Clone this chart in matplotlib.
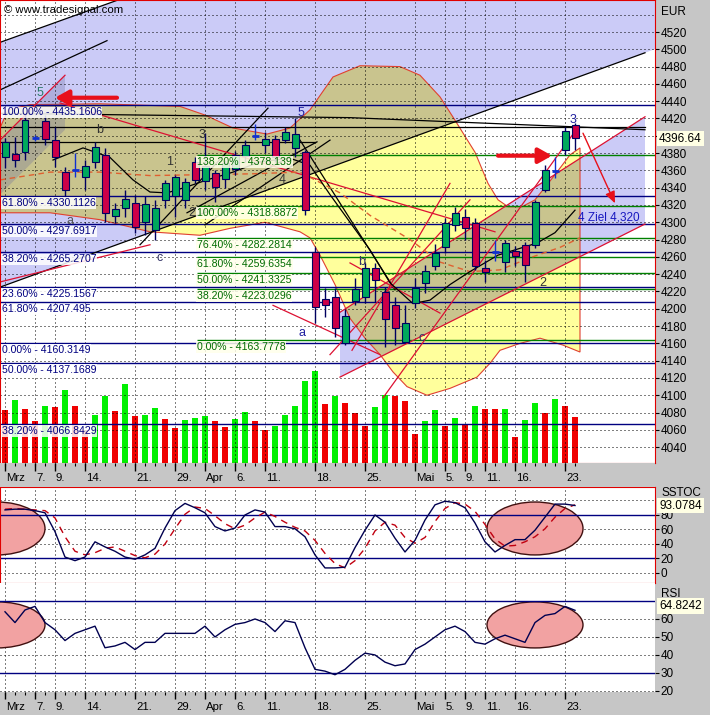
import numpy as np
import matplotlib.pyplot as plt
from matplotlib.patches import Polygon, Ellipse, Rectangle

plt.rcParams['font.family'] = ['Liberation Sans', 'DejaVu Sans']

# ---------------- data (trading days, index 0 = 2 Mar) ----------------
opens = [4375, 4379, 4381, 4397, 4417, 4395, 4358, 4360, 4352, 4370,
         4378, 4307, 4316, 4322, 4300, 4291, 4326, 4330, 4326, 4370,
         4348, 4357, 4350, 4362, 4377, 4400, 4389, 4396, 4395, 4386,
         4381, 4266, 4211, 4214, 4160, 4209, 4214, 4247, 4219, 4204,
         4162, 4207, 4230, 4250, 4271, 4297, 4306, 4299, 4247, 4266,
         4254, 4267, 4274, 4274, 4337, 4359, 4383, 4413]
highs = [4397, 4399, 4426, 4401, 4424, 4410, 4364, 4380, 4372, 4393,
         4386, 4322, 4337, 4332, 4330, 4326, 4349, 4355, 4351, 4375,
         4403, 4360, 4372, 4382, 4395, 4414, 4404, 4401, 4410, 4421,
         4384, 4271, 4224, 4224, 4200, 4236, 4253, 4253, 4225, 4214,
         4204, 4236, 4251, 4275, 4305, 4318, 4315, 4305, 4256, 4280,
         4280, 4273, 4277, 4326, 4366, 4375, 4410, 4415]
lows = [4363, 4364, 4372, 4394, 4389, 4364, 4329, 4352, 4337, 4363,
        4300, 4299, 4306, 4288, 4285, 4280, 4317, 4306, 4317, 4345,
        4337, 4323, 4340, 4355, 4370, 4395, 4380, 4370, 4392, 4376,
        4308, 4184, 4190, 4167, 4158, 4204, 4207, 4208, 4156, 4158,
        4160, 4201, 4218, 4245, 4265, 4290, 4280, 4245, 4231, 4255,
        4243, 4250, 4231, 4270, 4335, 4351, 4378, 4384]
closes = [4393, 4372, 4418, 4397, 4396, 4375, 4337, 4360, 4365, 4387,
          4311, 4315, 4327, 4295, 4321, 4317, 4345, 4352, 4347, 4349,
          4365, 4341, 4368, 4378, 4389, 4400, 4396, 4376, 4404, 4402,
          4314, 4202, 4204, 4178, 4192, 4223, 4247, 4233, 4188, 4178,
          4183, 4224, 4244, 4265, 4299, 4311, 4293, 4250, 4243, 4266,
          4276, 4261, 4251, 4324, 4360, 4359, 4406, 4397]
volume = [53, 63, 54, 42, 57, 56, 73, 57, 33, 48,
          67, 52, 79, 47, 48, 55, 44, 35, 43, 45,
          47, 42, 36, 44, 51, 42, 33, 37, 48, 57,
          82, 92, 59, 67, 60, 50, 37, 56, 68, 67,
          62, 29, 42, 53, 37, 45, 39, 57, 54, 54,
          54, 26, 43, 60, 50, 64, 57, 46]
vol_up = [0, 1, 0, 0, 1, 0, 1, 0, 0, 1, 1, 0, 1, 0, 1, 1, 0, 0, 1, 1,
          1, 0, 0, 1, 1, 0, 0, 1, 1, 1, 1, 1, 0, 1, 0, 0, 0, 1, 1, 0,
          0, 0, 1, 1, 0, 1, 0, 1, 0, 0, 1, 0, 1, 1, 0, 1, 0, 0]

stoch_k = [87, 88, 88, 86, 83, 57, 22, 17, 22, 43, 36, 30, 22, 19, 25, 34, 62, 86, 96, 90,
           83, 64, 58, 62, 80, 87, 84, 64, 64, 61, 50, 25, 7, 7, 8, 35, 59, 80, 70, 48,
           29, 45, 73, 94, 99, 97, 90, 69, 43, 29, 38, 46, 46, 59, 77, 95, 95, 93.08]
stoch_d = [88, 89, 88, 87, 86, 76, 50, 30, 25, 28, 34, 36, 30, 24, 21, 26, 40, 61, 81, 91,
           89, 79, 68, 61, 66, 76, 84, 78, 70, 63, 58, 45, 27, 13, 7, 17, 34, 58, 70, 66,
           49, 41, 49, 71, 89, 97, 95, 85, 67, 47, 37, 38, 43, 50, 61, 77, 89, 94]
rsi = [64, 58, 65, 67, 58, 54, 48, 52, 54, 56, 44, 45, 47, 43, 47, 47, 52, 52, 52, 52,
       56, 50, 54, 57, 58, 60, 58, 53, 59, 58, 44, 32, 31, 29, 32, 37, 41, 40, 36, 34,
       35, 43, 46, 50, 54, 56, 53, 47, 46, 49, 51, 49, 47, 58, 62, 63, 67, 64.82]

tick_idx = [0, 3, 5, 8, 13, 17, 20, 23, 26, 31, 36, 41, 44, 46, 48, 51, 56]
tick_lab = ['Mrz', '7.', '9.', '14.', '21.', '29.', 'Apr', '6.', '11.', '18.', '25.',
            'Mai', '5.', '9.', '11.', '16.', '23.']

# moving averages (bar index, price)
ma_fast_x = [4.8, 7.8, 10.5, 12.8, 14.5, 16.2, 18.2, 20.2, 22.8, 25.5, 28.5, 30.5, 32.5,
             34.5, 36.5, 38.5, 40.8, 42.5, 44.5, 46.5, 49.3, 53.2, 55.0, 57.0]
ma_fast_y = [4372, 4386, 4375, 4349, 4335, 4334, 4341, 4349, 4358, 4370, 4374, 4366, 4332,
             4300, 4268, 4230, 4206, 4210, 4228, 4243, 4262, 4276, 4288, 4314]
ma_mid_x = [-0.5, 4.5, 9.5, 14.5, 19.5, 24.5, 29.5, 33.5, 36.5, 40.5, 43.5, 46.5, 49.5,
            52.5, 55.5, 57.5]
ma_mid_y = [4349, 4358, 4358, 4354, 4355, 4356, 4358, 4334, 4308, 4280, 4254, 4243, 4245,
            4259, 4271, 4282]
ma_slow_x = [-0.5, 34.5, 64.0]
ma_slow_y = [4426, 4421, 4407]

# fibonacci levels
fib_blue = [('100.00%', 4435.1606), ('61.80%', 4330.1126), ('50.00%', 4297.6917),
            ('38.20%', 4265.2707), ('23.60%', 4225.1567), ('61.80%', 4207.495),
            ('0.00%', 4160.3149), ('50.00%', 4137.1689), ('38.20%', 4066.8429)]
fib_green = [('138.20%', 4378.139), ('100.00%', 4318.8872), ('76.40%', 4282.2814),
             ('61.80%', 4259.6354), ('50.00%', 4241.3325), ('38.20%', 4223.0296),
             ('0.00%', 4163.7778)]
fib_green_start = 19.2

# channels (two points each, extended)
chan1_upper = [(-0.5, 4508), (11.3, 4557)]
chan1_mid = [(-0.5, 4453), (10.2, 4510)]
chan1_lower = [(-0.5, 4225), (64.0, 4496)]
chan2_upper = [(33.5, 4196), (64.0, 4422)]
chan2_lower = [(33.5, 4121), (64.0, 4298)]

# cloud outline (bar index, price)
cloud_x = [-0.5, 0.3, 2.5, 9.5, 17.5, 20.0, 22.8, 26.2, 28.5, 30.5, 32.8, 35.5, 39.5, 41.5,
           43.5, 45.0, 47.0, 48.3, 49.3, 50.3, 51.7, 53.0, 55.0, 56.5, 57.5, 57.5, 55.8,
           53.5, 51.5, 49.5, 48.5, 47.2, 44.5, 42.2, 40.2, 38.8, 37.5, 36.0, 34.5, 33.0,
           31.5, 30.5, 29.5, 26.0, 22.5, 19.5, 14.5, 9.5, 4.5, -0.5]
cloud_y = [4409, 4430, 4436, 4437, 4434, 4424, 4409, 4402, 4409, 4430, 4468, 4481, 4480, 4470,
           4445, 4418, 4381, 4345, 4326, 4318, 4318, 4326, 4355, 4378, 4386, 4150, 4158,
           4166, 4160, 4152, 4137, 4121, 4108, 4100, 4110, 4127, 4147, 4166, 4189, 4228,
           4262, 4282, 4289, 4300, 4293, 4285, 4289, 4303, 4311, 4311]
wedge_x = [-0.5, 6.0, 6.0, -0.5]
wedge_y = [4395, 4470, 4407, 4332]

black_lines = [chan1_upper, chan1_mid, chan1_lower,
               [(13.5, 4274), (26.3, 4432)], [(18.2, 4311), (31.2, 4393)],
               [(29.5, 4395), (39.0, 4222)], [(20.0, 4297), (32.5, 4395)],
               [(-0.5, 4410), (64.0, 4410)], [(-0.5, 4393), (31.0, 4393)]]
red_lines = [chan2_upper, chan2_lower,
             [(5.5, 4438), (49.0, 4289)], [(37.8, 4097), (57.3, 4410)],
             [(32.5, 4147), (46.5, 4326)], [(26.8, 4204), (37.5, 4147)],
             [(-0.5, 4395), (6.0, 4470)], [(-0.5, 4231), (14.5, 4274)],
             [(34.5, 4253), (43.5, 4195)], [(34.7, 4152), (44.5, 4345)]]
arrows_thick = [((11.2, 4444), (5.0, 4444)), ((49.3, 4377), (54.7, 4377))]
arrows_thin = [((57.8, 4403), (61.0, 4322))]

wave_marks = [('5', 3.5, 4449, '#2a7a6a'), ('b', 9.5, 4407, '#333333'), ('3', 19.7, 4401, '#333333'),
              ('1', 16.5, 4370, '#333333'), ('5', 29.6, 4426, '#2020a0'), ('4', 27.7, 4349, '#333333'),
              ('2', 18.7, 4311, '#333333'), ('a', 6.5, 4302, '#555555'), ('c', 15.5, 4259, '#333366'),
              ('a', 29.7, 4172, '#2020a0'), ('b', 35.7, 4254, '#333366'), ('c', 41.7, 4166, '#333366'),
              ('2', 53.8, 4230, '#333333'), ('3', 56.8, 4418, '#2020a0')]

last_price = 4396.64
last_stoch = 93.0784
last_rsi = 64.8242

# ---------------- style ----------------
W, H = 710, 715
XL = (-0.5, 65.0)
PRICE_LIM = (4021.7, 4557.0)
GRAY = '#c6c6c6'
LAV = '#cbcbf7'
YEL = '#ffff9c'
KHAKI = '#c9c48e'
NAVY = '#000080'
DGREEN = '#006b00'
RED = '#dd1133'
DOT = (0, (1, 3))
FS_LAB = 7.6     # fibonacci labels
FS_AX = 8.5      # axis numbers
FS_DATE = 8.2

fig = plt.figure(figsize=(W / 100, H / 100), dpi=100)
fig.patch.set_facecolor(GRAY)


def panel(top, bottom, right=655):
    return [0, 1 - bottom / H, right / W, (bottom - top) / H]


def extend(seg, x0, x1):
    (xa, ya), (xb, yb) = seg
    k = (yb - ya) / (xb - xa)
    return [(x0, ya + k * (x0 - xa)), (x1, ya + k * (x1 - xa))]


def band(upper, lower, x0, x1):
    u = extend(upper, x0, x1)
    lo = extend(lower, x0, x1)
    return [u[0], u[1], lo[1], lo[0]]


def value_box(axis, value, text, dy=0):
    axis.annotate(text, xy=(1, value), xycoords=axis.get_yaxis_transform(),
                  xytext=(3, dy), textcoords='offset points', ha='left', va='center',
                  fontsize=FS_AX, zorder=10, annotation_clip=False,
                  bbox=dict(boxstyle='square,pad=0.15', fc='#ffffe4', ec='none'))


# background layer
ax_bg = fig.add_axes(panel(0, 463))
ax_bg.set_xlim(*XL)
ax_bg.set_ylim(*PRICE_LIM)
ax_bg.set_facecolor('white')
ax_bg.set_xticks([])
ax_bg.set_yticks([])
for s in ax_bg.spines.values():
    s.set_visible(False)

cloud = Polygon(np.column_stack([cloud_x, cloud_y]), closed=True, fc=YEL, ec='none', zorder=2)
ax_bg.add_patch(cloud)
for poly in [band(chan1_upper, chan1_lower, -0.5, 65), band(chan2_upper, chan2_lower, 33.5, 64)]:
    ax_bg.add_patch(Polygon(poly, fc=LAV, ec='none', zorder=1))
    kp = Polygon(poly, fc=KHAKI, ec='none', zorder=3)
    ax_bg.add_patch(kp)
    kp.set_clip_path(cloud)
ax_bg.add_patch(Polygon(np.column_stack([cloud_x, cloud_y]), closed=True, fill=False,
                        ec='#e04030', lw=0.8, zorder=4))
ax_bg.add_patch(Polygon(np.column_stack([wedge_x, wedge_y]), closed=True,
                        fc=(0.42, 0.42, 0.62, 0.3), ec='none', zorder=5))

# volume layer
ax_vol = fig.add_axes(panel(0, 463))
ax_vol.set_xlim(*XL)
ax_vol.set_ylim(0, 463)
ax_vol.axis('off')
idx = np.arange(len(closes))
ax_vol.bar(idx, volume, width=0.6, color=['#00f000' if u else '#f00000' for u in vol_up])

# main layer
ax = fig.add_axes(panel(0, 463))
ax.set_facecolor('none')
ax.set_xlim(*XL)
ax.set_ylim(*PRICE_LIM)
for s in ax.spines.values():
    s.set_color('#e00000')
ax.set_xticks([])
ax.yaxis.tick_right()
price_ticks = list(range(4040, 4521, 20))
ax.set_yticks(price_ticks)
# the 4400 label sits under the last-price box in the original
ax.set_yticklabels(['' if p == 4400 else str(p) for p in price_ticks])
ax.tick_params(axis='y', length=3, width=0.8, pad=1, labelsize=FS_AX, colors='black')

for p in range(4040, 4560, 20):
    ax.axhline(p, color='black', lw=0.72, ls=DOT, zorder=1)
for t in tick_idx:
    ax.axvline(t, color='black', lw=0.72, ls=DOT, zorder=1)

for name, val in fib_blue:
    ax.hlines(val, XL[0], XL[1], color=NAVY, lw=1, zorder=2)
    ax.annotate(f'{name} - {val}', xy=(-0.35, val), xytext=(0, -1.5), textcoords='offset points',
                ha='left', va='top', fontsize=FS_LAB, color=NAVY, zorder=8,
                bbox=dict(boxstyle='square,pad=0.08', fc='white', ec='none', alpha=0.85))
for name, val in fib_green:
    ax.hlines(val, fib_green_start, XL[1], color='#008000', lw=1, zorder=2)
    ax.annotate(f'{name} - {val}', xy=(fib_green_start, val), xytext=(0, -1.5),
                textcoords='offset points', ha='left', va='top', fontsize=FS_LAB, color=DGREEN,
                zorder=8, bbox=dict(boxstyle='square,pad=0.08', fc='#ffffea', ec='none', alpha=0.85))

for seg in black_lines:
    ax.plot([seg[0][0], seg[1][0]], [seg[0][1], seg[1][1]], color='black', lw=0.9, zorder=2)
for seg in red_lines:
    ax.plot([seg[0][0], seg[1][0]], [seg[0][1], seg[1][1]], color=RED, lw=0.9, zorder=2)

ax.plot(ma_slow_x, ma_slow_y, color='black', lw=0.9, zorder=2.5)
ax.plot(ma_mid_x, ma_mid_y, color='#e06030', lw=1, ls=(0, (4, 3)), zorder=2.5)
ax.plot(ma_fast_x, ma_fast_y, color='black', lw=0.9, zorder=2.5)

for i in idx:
    o, h, l, c = opens[i], highs[i], lows[i], closes[i]
    if o == c:
        ax.vlines(i, l, h, color='#1030d0', lw=1, zorder=5)
        ax.hlines(o, i - 0.35, i + 0.35, color='#1030d0', lw=2, zorder=5)
    else:
        ax.vlines(i, l, h, color='#000060', lw=1, zorder=5)
        ax.add_patch(Rectangle((i - 0.35, min(o, c)), 0.7, abs(c - o),
                               fc='#00a95c' if c > o else '#cc0048', ec='#000060', lw=0.8, zorder=6))

for start, end in arrows_thick:
    ax.annotate('', xy=end, xytext=start, zorder=7,
                arrowprops=dict(arrowstyle='-|>,head_length=0.8,head_width=0.45', color='#e8101a',
                                lw=3, shrinkA=0, shrinkB=0))
for start, end in arrows_thin:
    ax.annotate('', xy=end, xytext=start, zorder=7,
                arrowprops=dict(arrowstyle='-|>,head_length=0.7,head_width=0.3', color='#e8101a',
                                lw=1, shrinkA=0, shrinkB=0))

for txt, x, y, col in wave_marks:
    ax.text(x, y, txt, color=col, fontsize=9, ha='center', va='center', zorder=8)
ax.text(57.3, 4306, '4 Ziel 4,320', color='#1818c0', fontsize=8.5, ha='left', va='center', zorder=8)
ax.text(-0.1, 4546, '\u00a9 www.tradesignal.com', color='black', fontsize=8.2, ha='left',
        va='center', zorder=8)

value_box(ax, last_price, f'{last_price:.2f}')
fig.text(661 / W, 1 - 12 / H, 'EUR', fontsize=FS_AX, ha='left', va='center')

# stochastic panel
ax_st = fig.add_axes(panel(487, 583))
ax_st.set_xlim(*XL)
ax_st.set_ylim(-13.8, 118.6)
for s in ax_st.spines.values():
    s.set_color('#e00000')
ax_st.set_xticks([])
ax_st.yaxis.tick_right()
ax_st.set_yticks([0, 20, 40, 60, 80])
ax_st.tick_params(axis='y', length=3, width=0.8, pad=1, labelsize=FS_AX)
for v in [0, 40, 60, 100]:
    ax_st.axhline(v, color='black', lw=0.72, ls=DOT, zorder=1)
for v in [20, 80]:
    ax_st.axhline(v, color=NAVY, lw=1, zorder=2)
for t in tick_idx:
    ax_st.axvline(t, color='black', lw=0.72, ls=DOT, zorder=1)
for cx in [-0.8, 53.0]:
    ax_st.add_patch(Ellipse((cx, 61.4), 9.6, 73, fc='#f2a2a2', ec='#401010', lw=1, zorder=1.5))
ax_st.plot(idx, stoch_d, color='#c00010', lw=1, ls=(0, (5, 4)), zorder=3)
ax_st.plot(idx, stoch_k, color='#000050', lw=1, zorder=3)
value_box(ax_st, last_stoch, f'{last_stoch}')
fig.text(661 / W, 1 - 493 / H, 'SSTOC', fontsize=FS_AX, ha='left', va='center')

# RSI panel
ax_r = fig.add_axes(panel(583, 692))
ax_r.set_xlim(*XL)
ax_r.set_ylim(19.4, 80)
for s in ax_r.spines.values():
    s.set_visible(False)
ax_r.set_xticks([])
ax_r.yaxis.tick_right()
ax_r.set_yticks([20, 30, 40, 50, 60])
ax_r.tick_params(axis='y', length=3, width=0.8, pad=1, labelsize=FS_AX)
for v in [20, 40, 50, 60]:
    ax_r.axhline(v, color='black', lw=0.72, ls=DOT, zorder=1)
for v in [30, 70]:
    ax_r.axhline(v, color=NAVY, lw=1, zorder=2)
for t in tick_idx:
    ax_r.axvline(t, color='black', lw=0.72, ls=DOT, zorder=1)
for cx in [-0.8, 53.0]:
    ax_r.add_patch(Ellipse((cx, 56.7), 9.6, 25.6, fc='#f2a2a2', ec='#401010', lw=1, zorder=1.5))
ax_r.plot(idx, rsi, color='#000050', lw=1, zorder=3)
value_box(ax_r, last_rsi, f'{last_rsi}', dy=3)
fig.text(661 / W, 1 - 594 / H, 'RSI', fontsize=FS_AX, ha='left', va='center')

# date strips
for top, bottom in [(463, 487), (692, 715)]:
    s = fig.add_axes(panel(top, bottom))
    s.set_facecolor(GRAY)
    s.set_xlim(*XL)
    s.set_ylim(0, 1)
    s.set_xticks([])
    s.set_yticks([])
    for sp in s.spines.values():
        sp.set_visible(False)
    s.vlines(idx, 0.86, 1.0, color='black', lw=0.8)
    s.vlines(tick_idx, 0.68, 1.0, color='black', lw=1)
    for t, lab in zip(tick_idx, tick_lab):
        s.text(t + 0.1, 0.36, lab, ha='left', va='center', fontsize=FS_DATE)

fig.savefig('out.png', dpi=100, facecolor=fig.get_facecolor())
